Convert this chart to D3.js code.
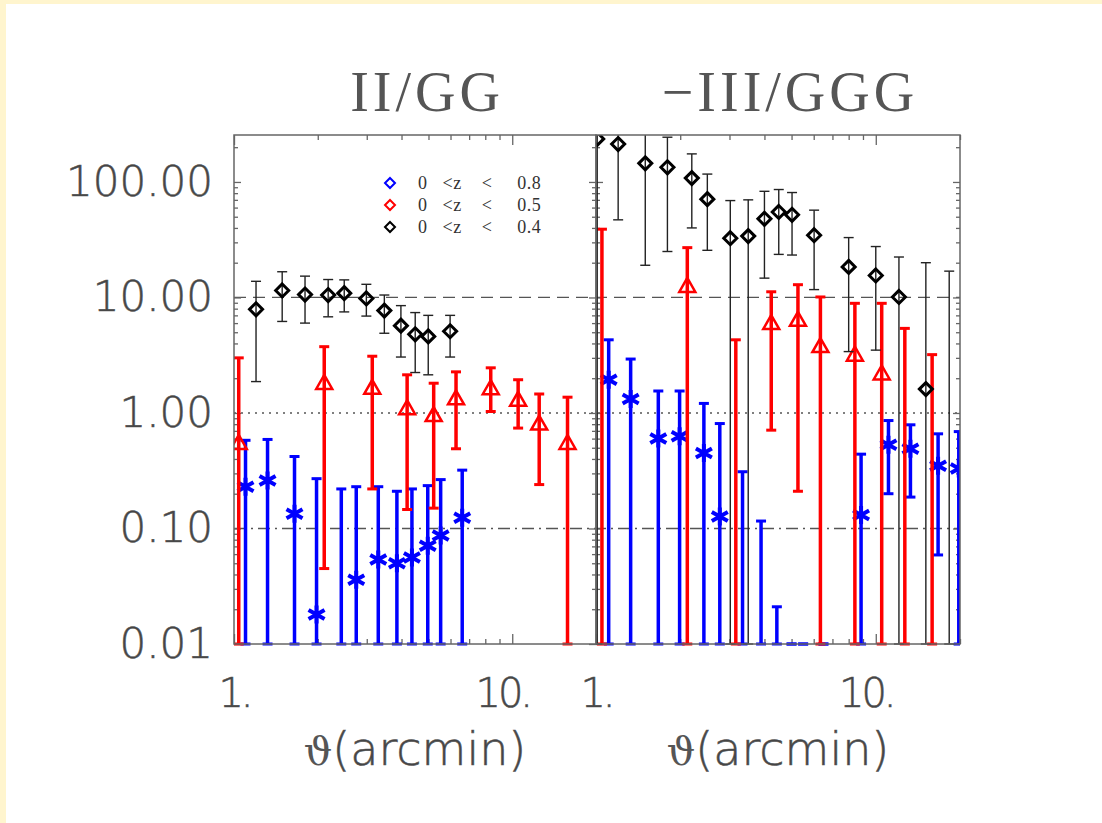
<!DOCTYPE html>
<html>
<head>
<meta charset="utf-8">
<script src="https://cdn.jsdelivr.net/npm/d3@7"></script>
<style>
  body { margin: 0; background: #fff; overflow: hidden; }
  svg { display: block; }
</style>
</head>
<body>
<svg id="chart" width="1102" height="823"></svg>
<script>
// rows are [theta (arcmin), value, lower, upper]
// null value = no marker visible, null lower/upper = bar runs off the axis
const iiBlue = [
  [1.10, 0.23, null, 0.58], [1.32, 0.26, null, 0.59], [1.65, 0.134, null, 0.42],
  [1.98, 0.018, null, 0.27], [2.43, null, null, 0.22], [2.75, 0.036, null, 0.23],
  [3.30, 0.054, null, 0.23], [3.85, 0.050, null, 0.21], [4.36, 0.056, null, 0.22],
  [4.97, 0.071, null, 0.235], [5.53, 0.087, null, 0.265], [6.61, 0.124, null, 0.32]
];
const iiRed = [
  [1.04, 0.55, null, 3.0], [2.11, 1.82, 0.045, 3.75], [3.14, 1.65, 0.22, 3.1],
  [4.19, 1.10, 0.146, 2.14], [5.22, 0.96, 0.15, 1.81], [6.28, 1.34, 0.49, 2.27],
  [8.37, 1.64, 1.03, 2.46], [10.5, 1.30, 0.74, 1.94], [12.5, 0.81, 0.24, 1.46],
  [15.8, 0.55, null, 1.37]
];
const iiBlack = [
  [1.20, 7.9, 1.87, 13.8], [1.49, 11.5, 6.2, 16.7], [1.80, 10.6, 6.0, 15.3],
  [2.18, 10.5, 6.8, 14.3], [2.49, 10.9, 7.5, 14.2], [2.99, 9.8, 6.9, 13.0],
  [3.47, 7.7, 4.9, 10.5], [3.98, 5.7, 3.05, 8.5], [4.48, 4.8, 2.24, 7.4],
  [4.99, 4.6, 2.14, 7.0], [5.98, 5.1, 3.05, 7.0]
];
const iiiBlue = [
  [1.11, 1.94, null, 4.3], [1.33, 1.32, null, 2.93], [1.67, 0.60, null, 1.55],
  [1.99, 0.63, null, 1.55], [2.43, 0.45, null, 1.21], [2.77, 0.127, null, 0.81],
  [3.34, null, null, 0.31], [3.89, null, null, 0.116], [4.43, null, null, 0.021],
  [5.0, null, null, 0.01], [5.5, null, null, 0.01], [6.5, null, null, 0.01],
  [8.86, 0.131, null, 0.44], [11.1, 0.53, 0.20, 0.86], [13.3, 0.49, 0.187, 0.79],
  [16.7, 0.35, 0.059, 0.66], [19.8, 0.33, null, 0.69]
];
const iiiRed = [
  [1.05, null, null, 39], [2.12, 12.6, null, 27], [3.16, null, null, 4.3],
  [4.23, 6.0, 0.71, 11.2], [5.27, 6.4, 0.21, 12.9], [6.34, 3.8, null, 10.1],
  [8.42, 3.2, null, 8.9], [10.5, 2.2, null, 8.9], [12.7, null, null, 5.4],
  [15.9, null, null, 3.2]
];
const iiiBlack = [
  [1.01, 236, null, null], [1.20, 213, 47, null], [1.50, 145, 19, null],
  [1.80, 134, 25, 244], [2.20, 108, 40, 175], [2.50, 71, 25.6, 117],
  [3.02, 32.6, null, 69], [3.50, 34, null, 70], [4.00, 48, 14.7, 83],
  [4.50, 55, 23.6, 86], [5.02, 52, 23.3, 81], [6.02, 34.6, 11.7, 57],
  [8.0, 18.4, 3.4, 33], [10.0, 15.5, 3.5, 27.6], [12.1, 10.1, null, 22.4],
  [15.1, 1.61, null, 20], [18.3, null, null, 16.9]
];

const legendLabels = ["0   <z    <     0.8", "0   <z    <     0.5", "0   <z    <     0.4"];
const yTicks = [0.01, 0.1, 1, 10, 100];
const yTickLabels = ["0.01", "0.10", "1.00", "10.00", "100.00"];
const xTicks = [1, 10];
const xTickLabels = ["1.", "10."];
const refLines = [10, 1, 0.1];

const xDomain = [1, 20], yDomain = [0.01, 255];
const plotTop = 135, plotBottom = 644;
const blue = "#0000ff", red = "#ff0000", black = "#000";
const axisColor = "#666";
const labelFont = "DejaVu Sans";

const svg = d3.select("#chart");
svg.append("rect").attr("width", 1102).attr("height", 823).attr("fill", "#fff5ce");
svg.append("rect").attr("x", 6).attr("y", 4).attr("width", 1096).attr("height", 819).attr("fill", "#fff");

const y = d3.scaleLog().domain(yDomain).range([plotBottom, plotTop]);

const minor = (lo, hi) => {
  const out = [];
  for (let d = lo; d < hi * 10; d *= 10)
    for (let k = 2; k <= 9; k++) if (d * k <= hi) out.push(d * k);
  return out;
};
const yMinor = minor(0.01, yDomain[1]);
const xMinor = minor(1, xDomain[1]);

const panels = [
  { x0: 234, x1: 596, title: "II/GG", titleX: 427, data: [iiBlue, iiRed, iiBlack], labels: true },
  { x0: 596, x1: 960, title: "\u2212III/GGG", titleX: 790, data: [iiiBlue, iiiRed, iiiBlack], labels: false }
];

const diamond = s => `M0,${-s}L${s},0L0,${s}L${-s},0Z`;
const triangle = "M0,-8L8,6L-8,6Z";
const asterisk = "M0,-9V9M-8,-4.5L8,4.5M-8,4.5L8,-4.5";

// reference lines across both panels
const dashes = ["12,7", "2,5", "12,5,2,5"];
refLines.forEach((v, i) => {
  svg.append("line")
    .attr("x1", panels[0].x0).attr("x2", panels[1].x1)
    .attr("y1", y(v)).attr("y2", y(v))
    .attr("stroke", "#555").attr("stroke-width", 1.3)
    .attr("stroke-dasharray", dashes[i]);
});

function styleAxis(g) {
  g.select(".domain").remove();
  g.selectAll("line").attr("stroke", axisColor).attr("stroke-width", 1.3);
}

panels.forEach((p, pi) => {
  const x = d3.scaleLog().domain(xDomain).range([p.x0, p.x1]);

  // ticks: major + minor on all four sides, pointing in
  const sides = [
    [d3.axisBottom, `translate(0,${plotBottom})`, x, 10, 5, xTicks, xMinor],
    [d3.axisTop, `translate(0,${plotTop})`, x, 10, 5, xTicks, xMinor],
    [d3.axisLeft, `translate(${p.x0},0)`, y, 7, 4, yTicks, yMinor],
    [d3.axisRight, `translate(${p.x1},0)`, y, 7, 4, yTicks, yMinor]
  ];
  sides.forEach(([axis, tr, sc, big, small, maj, mn]) => {
    svg.append("g").attr("transform", tr)
      .call(axis(sc).tickValues(maj).tickSize(-big).tickSizeOuter(0).tickFormat(""))
      .call(styleAxis);
    svg.append("g").attr("transform", tr)
      .call(axis(sc).tickValues(mn).tickSize(-small).tickSizeOuter(0).tickFormat(""))
      .call(styleAxis);
  });

  // x tick labels
  svg.append("g").attr("transform", `translate(0,${plotBottom})`)
    .call(d3.axisBottom(x).tickValues(xTicks).tickSize(0).tickPadding(35)
      .tickFormat((d, i) => xTickLabels[i]))
    .call(g => g.select(".domain").remove())
    .selectAll("text")
    .attr("dx", (d, i) => i === 1 ? -10 : 0)
    .attr("letter-spacing", -3)
    .attr("font-family", labelFont).attr("font-weight", 200)
    .attr("font-size", 40).attr("fill", "#444")
    .attr("stroke", "#555").attr("stroke-width", 0.6);

  if (p.labels) {
    svg.append("g").attr("transform", `translate(${p.x0},0)`)
      .call(d3.axisLeft(y).tickValues(yTicks).tickSize(0).tickPadding(21)
        .tickFormat((d, i) => yTickLabels[i]))
      .call(g => g.select(".domain").remove())
      .selectAll("text")
      .attr("font-family", labelFont).attr("font-weight", 200)
      .attr("font-size", 42).attr("fill", "#444")
      .attr("stroke", "#555").attr("stroke-width", 0.6);
  }

  // titles
  svg.append("text").attr("x", p.titleX).attr("y", 111)
    .attr("text-anchor", "middle")
    .attr("font-family", "Liberation Serif").attr("font-size", 56)
    .attr("letter-spacing", 4).attr("fill", "#555")
    .text(p.title);

  const xl = svg.append("text").attr("x", (p.x0 + p.x1) / 2).attr("y", 765)
    .attr("text-anchor", "middle")
    .attr("font-family", labelFont).attr("font-weight", 200)
    .attr("font-size", 46).attr("fill", "#444")
    .attr("stroke", "#555").attr("stroke-width", 0.6);
  xl.append("tspan").attr("font-family", "DejaVu Serif").attr("font-weight", 400)
    .attr("stroke", "none").attr("fill", "#555").attr("font-size", 40).text("\u03d1");
  xl.append("tspan").text("(arcmin)");

  // data, clipped to the panel
  const clipId = "clip" + pi;
  svg.append("clipPath").attr("id", clipId)
    .append("rect").attr("x", p.x0).attr("y", plotTop)
    .attr("width", p.x1 - p.x0).attr("height", plotBottom - plotTop + 2);
  const g = svg.append("g").attr("clip-path", `url(#${clipId})`);

  const styles = [
    { color: blue, w: 3.5, cap: 10, marker: asterisk, mw: 4 },
    { color: red, w: 3.5, cap: 10, marker: triangle, mw: 2.5 },
    { color: "#222", w: 1.4, cap: 10, marker: diamond(6.5), mw: 3 }
  ];
  p.data.forEach((rows, si) => {
    const s = styles[si];
    rows.forEach(([t, v, lo, hi]) => {
      const cx = x(t);
      const yLo = lo == null ? plotBottom : y(Math.max(lo, yDomain[0]));
      const yHi = hi == null ? plotTop - 20 : y(Math.max(hi, yDomain[0]));
      g.append("line").attr("x1", cx).attr("x2", cx).attr("y1", yLo).attr("y2", yHi)
        .attr("stroke", s.color).attr("stroke-width", s.w);
      const caps = hi == null ? [yLo] : [yLo, yHi];
      caps.forEach(cy => {
        g.append("line").attr("x1", cx - s.cap / 2).attr("x2", cx + s.cap / 2)
          .attr("y1", cy).attr("y2", cy)
          .attr("stroke", s.color).attr("stroke-width", si === 2 ? 1.4 : 3);
      });
      if (v != null) {
        g.append("path").attr("d", s.marker)
          .attr("transform", `translate(${cx},${y(v)})`)
          .attr("fill", "none").attr("stroke", si === 2 ? black : s.color)
          .attr("stroke-width", s.mw).attr("stroke-linejoin", "miter");
      }
    });
  });

  // frame
  svg.append("rect").attr("x", p.x0).attr("y", plotTop)
    .attr("width", p.x1 - p.x0).attr("height", plotBottom - plotTop)
    .attr("fill", "none").attr("stroke", axisColor).attr("stroke-width", 1.5);
});

// legend
const legendColors = [blue, red, black];
legendLabels.forEach((lab, i) => {
  const cy = 183 + i * 22;
  svg.append("path").attr("d", diamond(5))
    .attr("transform", `translate(390,${cy})`)
    .attr("fill", "none").attr("stroke", legendColors[i]).attr("stroke-width", 2);
  svg.append("text").attr("x", 418).attr("y", cy + 6)
    .style("white-space", "pre")
    .attr("letter-spacing", 0.5)
    .attr("font-family", "Liberation Serif").attr("font-size", 18).attr("fill", "#333")
    .text(lab);
});
</script>
</body>
</html>
